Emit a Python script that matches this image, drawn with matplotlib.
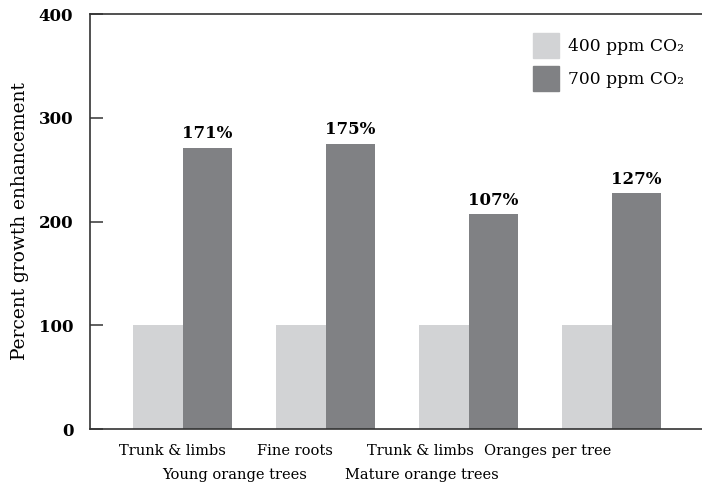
import matplotlib
matplotlib.use("Agg")
import matplotlib.pyplot as plt
import matplotlib.transforms as mtransforms
from matplotlib.patches import Patch
import numpy as np

plt.rcParams['font.family'] = ['DejaVu Serif']

# data
categories = ["Trunk & limbs", "Fine roots", "Trunk & limbs", "Oranges per tree"]
groups = ["Young orange trees", "Mature orange trees"]
series = ["400 ppm CO\u2082", "700 ppm CO\u2082"]
ambient = [100, 100, 100, 100]
enriched = [271, 275, 207, 227]
yticks = [0, 100, 200, 300, 400]

light = "#d2d3d5"
dark = "#808184"

# label offsets (in group units) - the original text is not centred on the bars
cat_x = [-0.07, 0.78, 1.66, 2.55]
grp_x = [0.36, 1.67]

fig = plt.figure(figsize=(7.02, 4.88), dpi=100)
ax = fig.add_axes([90/702, 59/488, 612/702, 415/488])

x = np.arange(len(categories))
w = 0.346
ax.bar(x - w/2, ambient, w, color=light, label=series[0])
bars = ax.bar(x + w/2, enriched, w, color=dark, label=series[1])

for rect, v in zip(bars, enriched):
    ax.annotate("{:.0f}%".format(v - 100),
                xy=(rect.get_x() + rect.get_width()/2, rect.get_height()),
                xytext=(0, 4), textcoords="offset points",
                ha="center", va="bottom", fontsize=12, fontweight="bold")

ax.set_xlim(-0.65, 3.63)
ax.set_ylim(0, 400)
ax.set_yticks(yticks)
ax.set_yticklabels([str(t) for t in yticks], fontsize=12, fontweight="bold")
ax.tick_params(axis="y", direction="in", length=9, width=1.2, pad=12, color="#444444")
ax.set_xticks([])
ax.spines["right"].set_visible(False)
for s in ["left", "bottom", "top"]:
    ax.spines[s].set_linewidth(1.2)
    ax.spines[s].set_color("#333333")
ax.set_ylabel("Percent growth enhancement", fontsize=13.4, labelpad=7)

trans = mtransforms.blended_transform_factory(ax.transData, ax.transAxes)
for cx, c in zip(cat_x, categories):
    ax.text(cx, -0.053, c, transform=trans, ha="center", va="center", fontsize=10.5)
for gx, g in zip(grp_x, groups):
    ax.text(gx, -0.111, g, transform=trans, ha="center", va="center", fontsize=10.5)

handles = [Patch(color=light), Patch(color=dark)]
ax.legend(handles, series, loc="upper left", bbox_to_anchor=(0.724, 0.954),
          frameon=False, fontsize=12.3, handlelength=1.52, handleheight=1.9,
          handletextpad=0.5, labelspacing=0.44, borderpad=0, borderaxespad=0)

fig.savefig("out.png", dpi=100)
